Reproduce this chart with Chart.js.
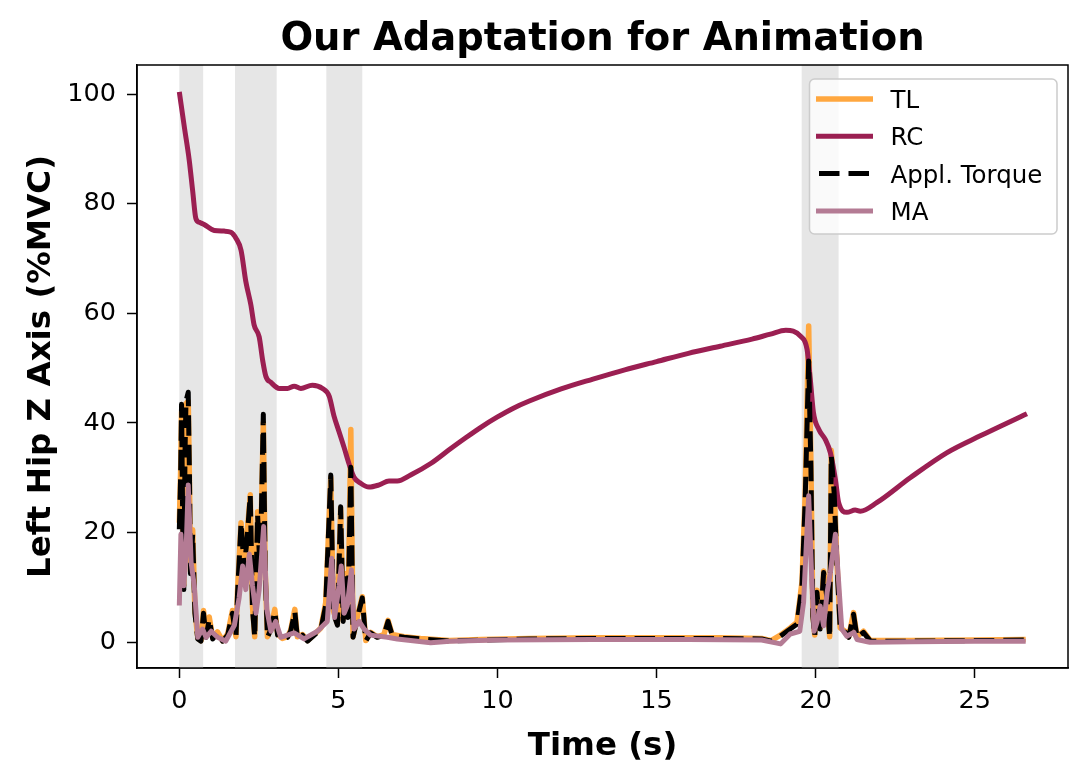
<!DOCTYPE html>
<html>
<head>
<meta charset="utf-8">
<script src="https://cdn.jsdelivr.net/npm/chart.js@4.4.1/dist/chart.umd.min.js"></script>
<style>
  html, body { margin: 0; padding: 0; background: #fff; }
  #wrap { width: 1086px; height: 782px; }
</style>
</head>
<body>
<div id="wrap"><canvas id="hipChart" width="1086" height="782"></canvas></div>
<script>
// tick labels
const xTicks = [0, 5, 10, 15, 20, 25];
const yTicks = [0, 20, 40, 60, 80, 100];

// grey bands (s)
const shadeStart = [0, 1.75, 4.62, 19.56];
const shadeEnd = [0.75, 3.06, 5.75, 20.72];

// RC
const rcTime = [0, 0.16, 0.31, 0.42, 0.52, 0.63, 0.78, 1.1, 1.41, 1.62, 1.78, 1.94, 2.09, 2.25, 2.35, 2.51, 2.62, 2.72, 2.88, 3.14,
  3.4, 3.61, 3.82, 4.18, 4.5, 4.71, 4.86, 5.02, 5.18, 5.33, 5.49, 5.7, 5.96, 6.28, 6.59, 6.85, 7.27, 7.9, 8.5, 9,
  9.5, 10, 10.5, 11, 12, 13, 14, 15, 16, 17, 18, 18.58, 19.06, 19.53, 19.73, 19.83, 19.93, 20.1, 20.3, 20.46,
  20.62, 20.72, 20.98, 21.24, 21.4, 21.93, 22.97, 24.13, 25.19, 26.64];
const rcValues = [100.4, 93.9, 88, 82.3, 77.3, 76.6, 76.2, 75.1, 75, 74.8, 73.7, 71.5, 65.8, 61.5, 57.9, 55.7, 51.4, 48.5, 47.4, 46.3,
  46.3, 46.7, 46.3, 46.9, 46.3, 44.9, 41.3, 38.4, 35.5, 32.6, 30.1, 29, 28.3, 28.7, 29.4, 29.4, 30.5, 32.6, 35.2, 37.3,
  39.3, 41.1, 42.7, 44.0, 46.2, 48.0, 49.7, 51.2, 52.7, 54.0, 55.3, 56.2, 56.9, 55.8, 53.4, 48, 41.9, 38.8, 37, 34.6,
  29.7, 25.5, 23.7, 24.1, 23.9, 25.5, 30, 34.6, 37.7, 41.7];

// TL and applied torque share one time base
const spikeTime = [0, 0.04, 0.07, 0.11, 0.14, 0.18, 0.21, 0.28, 0.32, 0.35, 0.42, 0.49, 0.58, 0.68, 0.76, 0.84, 0.94, 1.05, 1.2, 1.36,
  1.52, 1.67, 1.78, 1.83, 1.94, 2.04, 2.14, 2.23, 2.3, 2.37, 2.46, 2.54, 2.64, 2.7, 2.77, 2.88, 3.0, 3.09, 3.24, 3.4,
  3.5, 3.63, 3.71, 3.87, 4.03, 4.24, 4.45, 4.6, 4.76, 4.84, 4.97, 5.07, 5.15, 5.23, 5.3, 5.39, 5.46, 5.6, 5.75, 5.86,
  6.01, 6.22, 6.43, 6.56, 6.69, 7.06, 7.58, 8.5, 9.5, 11, 13, 15, 17, 18.3, 18.6, 18.89, 19.2, 19.41, 19.57, 19.67,
  19.78, 19.85, 19.91, 19.97, 20.04, 20.14, 20.25, 20.36, 20.44, 20.49, 20.58, 20.67, 20.77, 20.93, 21.04, 21.19, 21.3, 21.5, 21.72, 23,
  25, 26.6];
const torqueValues = [20.6, 30, 43.4, 20, 9.6, 35, 44, 45.6, 30, 12.5, 19.7, 5.3, 0.6, 0.2, 5.3, 0.9, 4.2, 0.6, 1.7, 0.2,
  1.3, 5.3, 0.9, 8.9, 21.8, 13.2, 19.7, 26.9, 6.0, 0.9, 23.3, 12.5, 41.6, 12.5, 0.9, 2.4, 5.6, 1.3, 0.6, 0.9,
  2.0, 5.6, 0.9, 1.3, 0.2, 1.3, 2.4, 6.7, 30.5, 5.3, 3.1, 24.7, 3.8, 12.5, 4.5, 31.9, 0.9, 4.5, 8.1, 0.2,
  1.7, 0.9, 1.3, 3.8, 1.3, 0.9, 0.6, 0.2, 0.4, 0.6, 0.7, 0.7, 0.7, 0.6, 0.2, 1.1, 2.4, 3.3, 10.3, 26,
  51.3, 32.1, 4.8, 1.1, 9.1, 2.4, 12.7, 7.8, 0.9, 34, 27.3, 13.9, 2.4, 1.8, 0.9, 5.1, 0.9, 1.8, 0.2, 0.2,
  0.3, 0.4];
const tlValues = [21.8, 31, 42, 21, 10.5, 36, 43.5, 44, 29, 13, 20.5, 5.8, 0.8, 0.3, 5.8, 1.2, 4.6, 0.8, 1.9, 0.3,
  1.5, 5.8, 1.0, 9.5, 21.8, 14, 20.5, 26.9, 6.5, 1.0, 23.8, 13, 40, 13, 1.0, 2.6, 6.0, 1.5, 0.7, 1.0,
  2.2, 6.0, 1.0, 1.4, 0.3, 1.4, 2.6, 7.2, 30, 5.8, 3.4, 24.5, 4.2, 12.5, 4.8, 38.8, 1.0, 4.8, 8.3, 0.3,
  1.8, 1.0, 1.4, 4.0, 1.4, 1.0, 0.7, 0.3, 0.5, 0.7, 0.8, 0.8, 0.8, 0.7, 0.3, 1.3, 2.6, 3.6, 11, 27,
  57.7, 33, 5.2, 1.3, 9.5, 2.6, 13, 8.2, 1.0, 35, 28, 14.5, 2.6, 2.0, 1.0, 5.4, 1.0, 2.0, 0.3, 0.3,
  0.4, 0.5];

// MA
const maTime = [0, 0.05, 0.14, 0.21, 0.28, 0.37, 0.47, 0.58, 0.73, 0.84, 1.0, 1.2, 1.46, 1.73, 1.88, 1.99, 2.09, 2.2, 2.3, 2.41,
  2.51, 2.65, 2.75, 2.88, 3.03, 3.19, 3.61, 3.92, 4.34, 4.65, 4.79, 4.88, 5.02, 5.09, 5.18, 5.28, 5.41, 5.49, 5.65, 5.81,
  6.01, 6.54, 6.85, 7.9, 8.5, 10, 13, 16, 18.3, 18.9, 19.2, 19.5, 19.62, 19.78, 19.88, 19.95, 20.04, 20.14, 20.25, 20.36,
  20.46, 20.62, 20.72, 20.82, 20.98, 21.2, 21.3, 21.7, 23, 25, 26.6];
const maValues = [6.7, 19.7, 10.3, 16.1, 28.7, 14.6, 10.3, 0.9, 2.4, 0.9, 2, 0.9, 0.2, 3.1, 8.1, 13.9, 9.6, 16.1, 10.3, 5.3,
  9.6, 21.1, 6, 2, 3.8, 0.9, 1.7, 0.6, 2, 3.8, 15.3, 4.5, 10.3, 13.9, 5.3, 6.7, 13.2, 2.4, 3.8, 2.4,
  1.3, 0.9, 0.6, -0.1, 0.2, 0.4, 0.5, 0.5, 0.4, -0.3, 1.5, 2, 7.3, 26.7, 11.1, 2, 3.6, 6.6, 3, 9.1,
  12.7, 19.7, 11.1, 2.4, 1.1, 1.8, 0.5, 0.0, 0.1, 0.2, 0.2];

const FONT = '"DejaVu Sans", sans-serif';

function pairs(xs, ys) {
  return xs.map((x, i) => ({ x: x, y: ys[i] }));
}

// grey spans behind the lines
const shadePlugin = {
  id: 'shade',
  beforeDatasetsDraw(chart) {
    const { ctx, chartArea, scales } = chart;
    ctx.save();
    ctx.fillStyle = '#e6e6e6';
    for (let i = 0; i < shadeStart.length; i++) {
      const x0 = scales.x.getPixelForValue(shadeStart[i]);
      const x1 = scales.x.getPixelForValue(shadeEnd[i]);
      ctx.fillRect(x0, chartArea.top, x1 - x0, chartArea.bottom - chartArea.top);
    }
    ctx.restore();
  }
};

// title, axis labels, frame and legend in matplotlib style
const decorPlugin = {
  id: 'decor',
  afterDraw(chart) {
    const { ctx, chartArea } = chart;
    const a = chartArea;
    ctx.save();
    ctx.strokeStyle = '#000';
    ctx.lineWidth = 1.5;
    ctx.strokeRect(a.left, a.top, a.right - a.left, a.bottom - a.top);

    ctx.fillStyle = '#000';
    ctx.textAlign = 'center';
    ctx.textBaseline = 'alphabetic';
    ctx.font = 'bold 38.5px ' + FONT;
    ctx.fillText('Our Adaptation for Animation', (a.left + a.right) / 2, 50);

    ctx.font = 'bold 32.5px ' + FONT;
    ctx.fillText('Time (s)', (a.left + a.right) / 2, 755);

    ctx.save();
    ctx.translate(50, (a.top + a.bottom) / 2);
    ctx.rotate(-Math.PI / 2);
    ctx.fillText('Left Hip Z Axis (%MVC)', 0, 0);
    ctx.restore();

    // legend
    const bx = 809.5, by = 79, bw = 247.5, bh = 155;
    ctx.beginPath();
    ctx.roundRect(bx, by, bw, bh, 5);
    ctx.fillStyle = 'rgba(255,255,255,0.8)';
    ctx.fill();
    ctx.strokeStyle = '#cccccc';
    ctx.lineWidth = 1.5;
    ctx.stroke();

    ctx.font = '24.5px ' + FONT;
    ctx.textAlign = 'left';
    chart.data.datasets.forEach((ds, i) => {
      const y = 99 + i * 37.3;
      ctx.beginPath();
      ctx.strokeStyle = ds.borderColor;
      ctx.lineWidth = ds.borderWidth;
      ctx.setLineDash(ds.borderDash || []);
      ctx.lineDashOffset = 0;
      ctx.moveTo(ds.borderDash ? 819 : 816, y);
      ctx.lineTo(873, y);
      ctx.stroke();
      ctx.setLineDash([]);
      ctx.fillStyle = '#000';
      ctx.fillText(ds.label, 890.5, y + 9);
    });
    ctx.restore();
  }
};

new Chart(document.getElementById('hipChart'), {
  type: 'scatter',
  data: {
    datasets: [
      {
        label: 'TL',
        data: pairs(spikeTime, tlValues),
        borderColor: '#ffa73f',
        borderWidth: 5.5,
        order: 4
      },
      {
        label: 'RC',
        data: pairs(rcTime, rcValues),
        borderColor: '#9b1f52',
        borderWidth: 5,
        cubicInterpolationMode: 'monotone',
        order: 3
      },
      {
        label: 'Appl. Torque',
        data: pairs(spikeTime, torqueValues),
        borderColor: '#000000',
        borderWidth: 5,
        borderDash: [20.5, 9],
        order: 2
      },
      {
        label: 'MA',
        data: pairs(maTime, maValues),
        borderColor: '#b47b94',
        borderWidth: 5,
        order: 1
      }
    ]
  },
  options: {
    responsive: false,
    devicePixelRatio: 1,
    animation: false,
    showLine: true,
    elements: {
      point: { radius: 0, hoverRadius: 0 },
      line: { borderCapStyle: 'butt', borderJoinStyle: 'round', tension: 0 }
    },
    layout: { padding: { top: 65, right: 18, left: 0, bottom: 0 } },
    plugins: {
      legend: { display: false },
      title: { display: false },
      tooltip: { enabled: false }
    },
    scales: {
      x: {
        type: 'linear',
        min: -1.33,
        max: 27.93,
        afterFit(scale) { scale.height = 114; },
        afterBuildTicks(scale) { scale.ticks = xTicks.map(v => ({ value: v })); },
        grid: { display: true, drawOnChartArea: false, drawTicks: true, tickLength: 10, tickWidth: 1.5, tickColor: '#000' },
        border: { display: true, color: '#000', width: 1.5 },
        ticks: { color: '#000', padding: 8, font: { family: FONT, size: 25.5 }, maxRotation: 0 }
      },
      y: {
        type: 'linear',
        min: -4.7,
        max: 105.3,
        afterFit(scale) { scale.width = 137; },
        afterBuildTicks(scale) { scale.ticks = yTicks.map(v => ({ value: v })); },
        grid: { display: true, drawOnChartArea: false, drawTicks: true, tickLength: 10, tickWidth: 1.5, tickColor: '#000' },
        border: { display: true, color: '#000', width: 1.5 },
        ticks: { color: '#000', padding: 11, font: { family: FONT, size: 25.5 } }
      }
    }
  },
  plugins: [shadePlugin, decorPlugin]
});
</script>
</body>
</html>
